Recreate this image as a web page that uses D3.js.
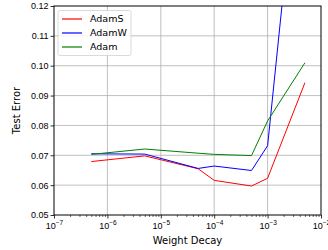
<!DOCTYPE html>
<html>
<head>
<meta charset="utf-8">
<script src="https://cdn.jsdelivr.net/npm/d3@7"></script>
<style>
  body { margin: 0; background: #fff; }
  svg { font-family: "DejaVu Sans", sans-serif; }
</style>
</head>
<body>
<script>
const WIDTH = 328;
const HEIGHT = 250;
const MARGIN = {top: 6, right: 7, bottom: 35, left: 54};

// weight decay values
var decays = [5e-7, 5e-6, 5e-5, 1e-4, 5e-4, 1e-3, 5e-3];

var adamS = [0.0679, 0.0698, 0.0655, 0.0616, 0.0597, 0.0623, 0.0943];
var adamW = [0.0705, 0.0704, 0.0656, 0.0664, 0.0649, 0.0732, 0.195];
var adam  = [0.0703, 0.0721, 0.0707, 0.0703, 0.0699, 0.0815, 0.1010];

var seriesNames = ['AdamS', 'AdamW', 'Adam'];
var seriesColors = ['#ff0000', '#0000ff', '#008000'];

var yTicks = [0.05, 0.06, 0.07, 0.08, 0.09, 0.10, 0.11, 0.12];
var xTicks = [1e-7, 1e-6, 1e-5, 1e-4, 1e-3, 1e-2];

var translate = function(x, y) {
  return 'translate(' + x + ',' + y + ')';
};

var innerW = WIDTH - MARGIN.left - MARGIN.right;
var innerH = HEIGHT - MARGIN.top - MARGIN.bottom;

var xScale = d3.scaleLog()
  .domain([1e-7, 1e-2])
  .range([0, innerW]);

var yScale = d3.scaleLinear()
  .domain([0.05, 0.12])
  .range([innerH, 0]);

var svg = d3.select('body').append('svg')
  .attr('width', WIDTH)
  .attr('height', HEIGHT);

var g = svg.append('g').attr('transform', translate(MARGIN.left, MARGIN.top));

g.append('clipPath').attr('id', 'clip')
  .append('rect').attr('width', innerW).attr('height', innerH);

// grid
g.append('g').selectAll('line').data(xTicks.slice(1, -1)).enter()
  .append('line')
  .attr('x1', d => xScale(d)).attr('x2', d => xScale(d))
  .attr('y1', 0).attr('y2', innerH)
  .attr('stroke', '#b0b0b0').attr('stroke-width', 0.8);

g.append('g').selectAll('line').data(yTicks.slice(1, -1)).enter()
  .append('line')
  .attr('y1', d => yScale(d)).attr('y2', d => yScale(d))
  .attr('x1', 0).attr('x2', innerW)
  .attr('stroke', '#b0b0b0').attr('stroke-width', 0.8);

// lines
var allSeries = [adamS, adamW, adam];
var line = d3.line()
  .x((d, i) => xScale(decays[i]))
  .y(d => yScale(d));

g.append('g').attr('clip-path', 'url(#clip)')
  .selectAll('path').data(allSeries).enter()
  .append('path')
  .attr('d', d => line(d))
  .attr('fill', 'none')
  .attr('stroke', (d, i) => seriesColors[i])
  .attr('stroke-width', 1);

// axes
var minorTicks = [];
for (var e = -7; e < -2; e++) {
  for (var m = 2; m < 10; m++) minorTicks.push(m * Math.pow(10, e));
}

var xAxis = d3.axisBottom(xScale).tickValues(xTicks).tickSize(3.5).tickFormat(d => '');
var xMinor = d3.axisBottom(xScale).tickValues(minorTicks).tickSize(2).tickFormat('');
var yAxis = d3.axisLeft(yScale).tickValues(yTicks).tickSize(3.5).tickPadding(2)
  .tickFormat(d3.format('.2f'));

var xg = g.append('g').attr('transform', translate(0, innerH)).call(xAxis);
g.append('g').attr('transform', translate(0, innerH)).call(xMinor)
  .call(s => s.select('.domain').remove())
  .call(s => s.selectAll('line').attr('stroke', '#000').attr('stroke-width', 0.6));
var yg = g.append('g').call(yAxis);

xg.selectAll('.tick').append('text')
  .attr('fill', '#000').attr('y', 13.5).attr('text-anchor', 'middle')
  .style('font-size', '9px')
  .each(function(d) {
    var t = d3.select(this);
    t.append('tspan').text('10');
    t.append('tspan').attr('dy', -4).style('font-size', '6.5px')
      .text('\u2212' + (-Math.round(Math.log10(d))));
  });

yg.selectAll('text').style('font-size', '9px').attr('fill', '#000');
[xg, yg].forEach(a => {
  a.select('.domain').remove();
  a.selectAll('line').attr('stroke', '#000').attr('stroke-width', 0.8);
});

g.append('rect')
  .attr('width', innerW).attr('height', innerH)
  .attr('fill', 'none').attr('stroke', '#000').attr('stroke-width', 1);

// labels
svg.append('text')
  .attr('x', MARGIN.left + innerW / 2).attr('y', 244)
  .attr('text-anchor', 'middle').style('font-size', '10px')
  .text('Weight Decay');

svg.append('text')
  .attr('transform', translate(20, MARGIN.top + innerH / 2) + ' rotate(-90)')
  .attr('text-anchor', 'middle').style('font-size', '10px')
  .text('Test Error');

// legend
var legend = g.append('g').attr('transform', translate(4, 4.5));
legend.append('rect')
  .attr('width', 73).attr('height', 45).attr('rx', 2)
  .attr('fill', '#fff').attr('fill-opacity', 0.8)
  .attr('stroke', '#d0d0d0').attr('stroke-width', 0.8);

var items = legend.selectAll('.item').data(seriesNames).enter()
  .append('g').attr('transform', (d, i) => translate(0, 8.5 + i * 14));
items.append('line')
  .attr('x1', 4).attr('x2', 24)
  .attr('stroke', (d, i) => seriesColors[i]).attr('stroke-width', 1.2);
items.append('text')
  .attr('x', 32).attr('y', 3.4).style('font-size', '9.5px')
  .text(d => d);
</script>
</body>
</html>
